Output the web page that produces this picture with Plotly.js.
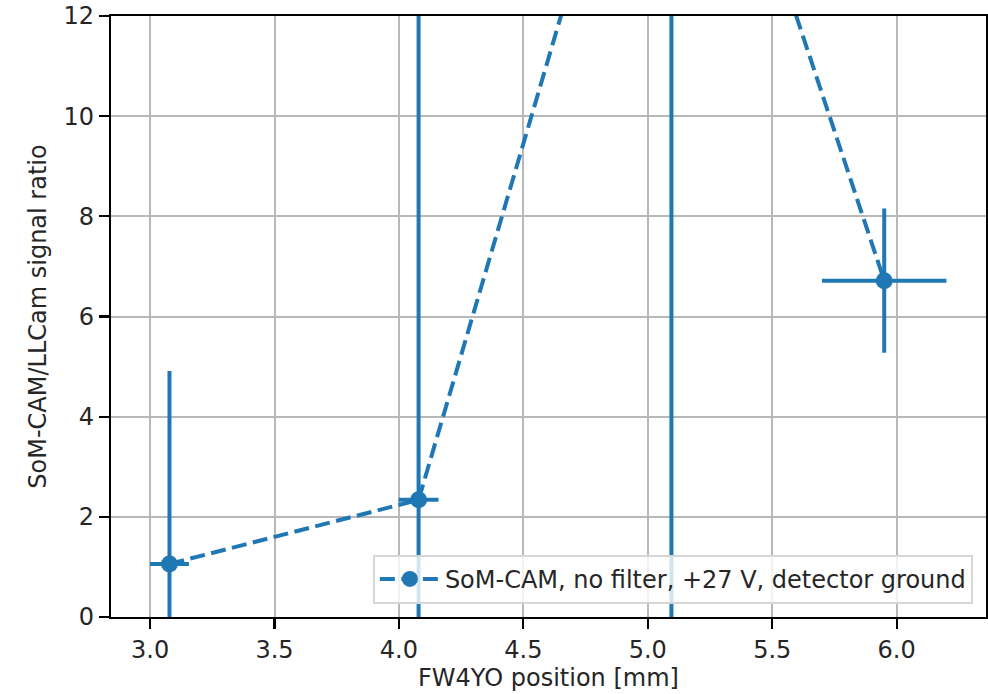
<!DOCTYPE html>
<html>
<head>
<meta charset="utf-8">
<script src="https://cdn.plot.ly/plotly-3.0.1.min.js"></script>
<style>html,body{margin:0;padding:0;background:#fff;}#chart{width:988px;height:694px;}</style>
</head>
<body>
<div id="chart"></div>
<script>
// Data
const positions = [3.078, 4.079, 5.095, 5.950];
const ratios = [1.06, 2.34, 19.5, 6.715];
const positionErr = [0.078, 0.08, 0.05, 0.25];
const ratioErr = [3.85, 12, 20, 1.44];
const seriesName = 'SoM-CAM, no filter, +27 V, detector ground';
const xTicks = [3.0, 3.5, 4.0, 4.5, 5.0, 5.5, 6.0];
const xTickText = ['3.0', '3.5', '4.0', '4.5', '5.0', '5.5', '6.0'];
const yTicks = [0, 2, 4, 6, 8, 10, 12];

const blue = '#1f77b4';
const trace = {
  x: positions,
  y: ratios,
  type: 'scatter',
  mode: 'lines+markers',
  name: seriesName,
  line: {color: blue, width: 4, dash: '15px,6.5px'},
  marker: {color: blue, size: 17},
  error_x: {type: 'data', array: positionErr, color: blue, thickness: 4, width: 0},
  error_y: {type: 'data', array: ratioErr, color: blue, thickness: 4, width: 0},
  showlegend: true
};

const font = {family: 'DejaVu Sans, sans-serif', size: 24, color: '#262626'};
const layout = {
  width: 988, height: 694,
  margin: {l: 111, r: 2, t: 16, b: 77, pad: 0},
  paper_bgcolor: '#fff', plot_bgcolor: '#fff',
  font: font,
  xaxis: {
    range: [2.843, 6.359],
    tickvals: xTicks, ticktext: xTickText,
    ticks: 'outside', ticklen: 10, tickwidth: 2.2, tickcolor: '#000',
    showline: true, linecolor: '#000', linewidth: 2.2, mirror: true,
    showgrid: true, gridcolor: '#b8b8b8', gridwidth: 2,
    zeroline: false,
    title: {text: 'FW4YO position [mm]', font: font, standoff: 6},
    tickfont: font
  },
  yaxis: {
    range: [0, 12],
    tickvals: yTicks,
    ticks: 'outside', ticklen: 10, tickwidth: 2.2, tickcolor: '#000',
    showline: true, linecolor: '#000', linewidth: 2.2, mirror: true,
    showgrid: true, gridcolor: '#b8b8b8', gridwidth: 2,
    zeroline: false,
    title: {text: 'SoM-CAM/LLCam signal ratio', font: font, standoff: 10},
    tickfont: font
  },
  legend: {
    x: 0.985, y: 0.022, xanchor: 'right', yanchor: 'bottom',
    bgcolor: 'rgba(255,255,255,0.8)', bordercolor: '#d6d6d6', borderwidth: 2,
    itemwidth: 60,
    font: font
  },
  showlegend: true
};

Plotly.newPlot('chart', [trace], layout, {displayModeBar: false, staticPlot: true});
</script>
</body>
</html>
